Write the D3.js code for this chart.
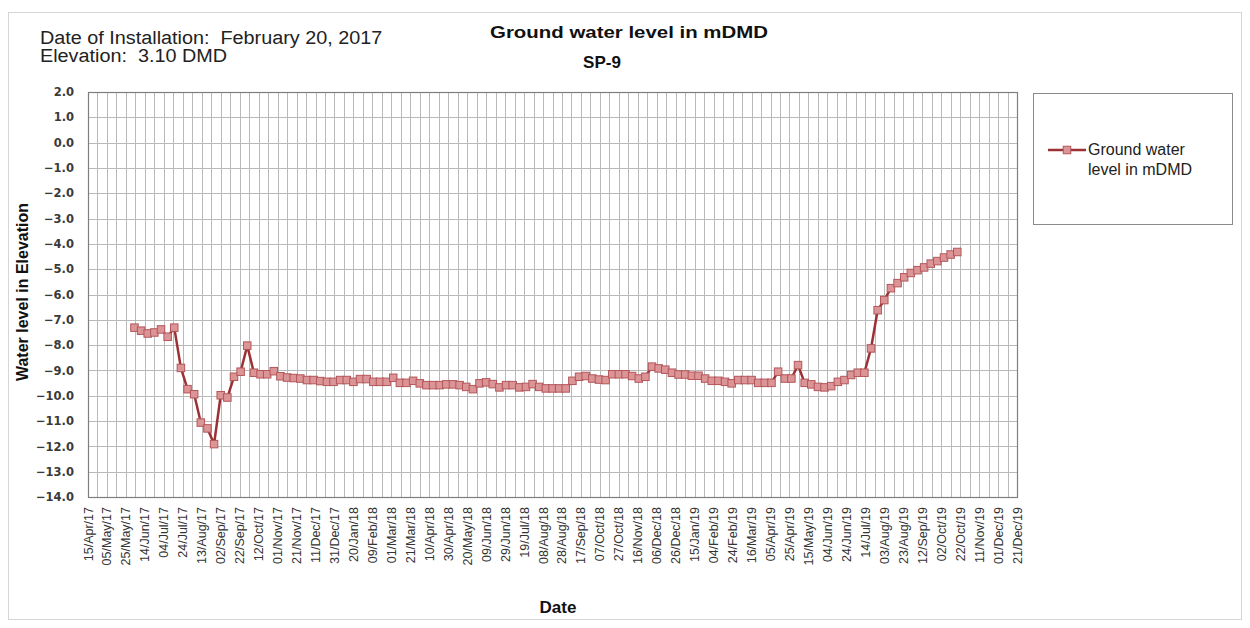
<!DOCTYPE html>
<html>
<head>
<meta charset="utf-8">
<script src="https://cdnjs.cloudflare.com/ajax/libs/d3/7.8.5/d3.min.js"></script>
<style>
body{margin:0;background:#fff;}
text{font-family:'Liberation Sans',Arial,sans-serif;}
</style>
</head>
<body>
<div id="gwl_div"></div>
<script>

////////////////////////////////////////
////////////////////////////////////////
////////////////////////////////////////

var gwl_w = 1250;
var gwl_h = 628;

var plot = {left:88,right:1017,top:92,bottom:497};

var gwl_vis = d3.select('#gwl_div')
	.append('svg')
	.attr('width',gwl_w)
	.attr('height',gwl_h)
	.attr('id','gwl_svg');

////////////////////////////////////////
////////////////////////////////////////
////////////////////////////////////////

var chartTitle = 'Ground water level in mDMD';
var chartSubtitle = 'SP-9';
var infoLines = ['Date of Installation:  February 20, 2017','Elevation:  3.10 DMD'];
var seriesName = ['Ground water','level in mDMD'];
var xTitle = 'Date';
var yTitle = 'Water level in Elevation';

var axisDates = ['2017-04-15','2019-12-21'];
var yTicks = [2,1,0,-1,-2,-3,-4,-5,-6,-7,-8,-9,-10,-11,-12,-13,-14];

var dates2017 = ['2017-06-03','2017-06-10','2017-06-17','2017-06-24','2017-07-01','2017-07-08','2017-07-15','2017-07-22','2017-07-29','2017-08-05','2017-08-12','2017-08-19','2017-08-26','2017-09-02','2017-09-09','2017-09-16','2017-09-23','2017-09-30','2017-10-07','2017-10-14','2017-10-21','2017-10-28','2017-11-04','2017-11-11','2017-11-18','2017-11-25','2017-12-02','2017-12-09','2017-12-16','2017-12-23','2017-12-30'];
var levels2017 = [-7.31,-7.43,-7.54,-7.50,-7.38,-7.67,-7.31,-8.90,-9.74,-9.94,-11.06,-11.29,-11.91,-9.98,-10.07,-9.25,-9.05,-8.02,-9.09,-9.15,-9.15,-9.03,-9.23,-9.28,-9.30,-9.32,-9.38,-9.38,-9.42,-9.45,-9.45];

var dates2018 = ['2018-01-06','2018-01-13','2018-01-20','2018-01-27','2018-02-03','2018-02-10','2018-02-17','2018-02-24','2018-03-03','2018-03-10','2018-03-17','2018-03-24','2018-03-31','2018-04-07','2018-04-14','2018-04-21','2018-04-28','2018-05-05','2018-05-12','2018-05-19','2018-05-26','2018-06-02','2018-06-09','2018-06-16','2018-06-23','2018-06-30','2018-07-07','2018-07-14','2018-07-21','2018-07-28','2018-08-04','2018-08-11','2018-08-18','2018-08-25','2018-09-01','2018-09-08','2018-09-15','2018-09-22','2018-09-29','2018-10-06','2018-10-13','2018-10-20','2018-10-27','2018-11-03','2018-11-10','2018-11-17','2018-11-24','2018-12-01','2018-12-08','2018-12-15','2018-12-22','2018-12-29'];
var levels2018 = [-9.38,-9.38,-9.45,-9.34,-9.34,-9.45,-9.45,-9.45,-9.29,-9.49,-9.49,-9.41,-9.51,-9.58,-9.58,-9.58,-9.55,-9.55,-9.58,-9.65,-9.74,-9.51,-9.47,-9.54,-9.67,-9.58,-9.58,-9.67,-9.65,-9.54,-9.65,-9.71,-9.71,-9.71,-9.71,-9.41,-9.25,-9.22,-9.32,-9.36,-9.38,-9.15,-9.15,-9.15,-9.22,-9.32,-9.25,-8.85,-8.92,-8.97,-9.09,-9.16];

var dates2019 = ['2019-01-05','2019-01-12','2019-01-19','2019-01-26','2019-02-02','2019-02-09','2019-02-16','2019-02-23','2019-03-02','2019-03-09','2019-03-16','2019-03-23','2019-03-30','2019-04-06','2019-04-13','2019-04-20','2019-04-27','2019-05-04','2019-05-11','2019-05-18','2019-05-25','2019-06-01','2019-06-08','2019-06-15','2019-06-22','2019-06-29','2019-07-06','2019-07-13','2019-07-20','2019-07-27','2019-08-03','2019-08-10','2019-08-17','2019-08-24','2019-08-31','2019-09-07','2019-09-14','2019-09-21','2019-09-28','2019-10-05','2019-10-12','2019-10-19'];
var levels2019 = [-9.16,-9.21,-9.21,-9.32,-9.41,-9.41,-9.45,-9.51,-9.38,-9.38,-9.38,-9.49,-9.49,-9.49,-9.05,-9.32,-9.32,-8.79,-9.49,-9.55,-9.65,-9.67,-9.62,-9.45,-9.38,-9.18,-9.09,-9.09,-8.13,-6.62,-6.22,-5.75,-5.55,-5.32,-5.15,-5.04,-4.93,-4.78,-4.68,-4.54,-4.42,-4.32];

////////////////////////////////////////
////////////////////////////////////////
////////////////////////////////////////

var parseDate = d3.utcParse('%Y-%m-%d');
var fmtDate = d3.utcFormat('%d/%b/%y');

var allDates = dates2017.concat(dates2018,dates2019);
var allLevels = levels2017.concat(levels2018,levels2019);

var gwl_data = allDates.map(function(d,i){
	return {'date':parseDate(d),'value':allLevels[i]};
});

var startDate = parseDate(axisDates[0]);
var endDate = parseDate(axisDates[1]);

var x = d3.scaleUtc()
	.domain([startDate,endDate])
	.range([plot.left,plot.right]);

var y = d3.scaleLinear()
	.domain([-14,2])
	.range([plot.bottom,plot.top]);

// every 20th day gets a label, every 10th a gridline
var majorTicks = d3.utcDay.range(startDate,d3.utcDay.offset(endDate,1),20);
var minorTicks = d3.utcDay.range(startDate,d3.utcDay.offset(endDate,1),10);

////////////////////////////////////////
////////////////////////////////////////
////////////////////////////////////////

gwl_vis.append('rect')
	.attr('x',8.5)
	.attr('y',12.5)
	.attr('width',1233)
	.attr('height',607)
	.attr('fill','none')
	.attr('stroke','#d6d6d6');

gwl_vis.selectAll('line.gwl_vgrid')
	.data(minorTicks)
	.enter()
		.append('line')
		.attr('class','gwl_vgrid')
		.attr('x1',function(d){ return Math.round(x(d))+0.5; })
		.attr('x2',function(d){ return Math.round(x(d))+0.5; })
		.attr('y1',plot.top)
		.attr('y2',plot.bottom)
		.attr('stroke','#b9b9b9')
		.attr('stroke-width',1);

gwl_vis.selectAll('line.gwl_hgrid')
	.data(yTicks)
	.enter()
		.append('line')
		.attr('class','gwl_hgrid')
		.attr('x1',plot.left)
		.attr('x2',plot.right)
		.attr('y1',function(d){ return Math.round(y(d))+0.5; })
		.attr('y2',function(d){ return Math.round(y(d))+0.5; })
		.attr('stroke','#b9b9b9')
		.attr('stroke-width',1);

gwl_vis.append('rect')
	.attr('x',plot.left+0.5)
	.attr('y',plot.top+0.5)
	.attr('width',plot.right-plot.left)
	.attr('height',plot.bottom-plot.top)
	.attr('fill','none')
	.attr('stroke','#7f7f7f')
	.attr('stroke-width',1.2);

////////////////////////////////////////
////////////////////////////////////////
////////////////////////////////////////

gwl_vis.selectAll('text.gwl_ytick')
	.data(yTicks)
	.enter()
		.append('text')
		.attr('class','gwl_ytick')
		.attr('x',74)
		.attr('y',function(d){ return y(d); })
		.attr('dy','0.36em')
		.attr('text-anchor','end')
		.style('font-family','"DejaVu Sans",Verdana,sans-serif')
		.attr('font-size',11.5)
		.attr('font-weight','bold')
		.attr('fill','#3a3a3a')
		.text(function(d){ return d3.format('.1f')(d); });

gwl_vis.selectAll('text.gwl_xtick')
	.data(majorTicks)
	.enter()
		.append('text')
		.attr('class','gwl_xtick')
		.attr('transform',function(d){
			return 'translate('+(x(d)+4.5)+',507) rotate(-90)';
		})
		.attr('text-anchor','end')
		.attr('font-size',12.5)
		.attr('fill','#333')
		.text(function(d){ return fmtDate(d); });

////////////////////////////////////////
////////////////////////////////////////
////////////////////////////////////////

var line = d3.line()
	.x(function(d){ return x(d.date); })
	.y(function(d){ return y(d.value); });

gwl_vis.append('path')
	.datum(gwl_data)
	.attr('d',line)
	.attr('fill','none')
	.attr('stroke','#9c3135')
	.attr('stroke-width',2.5)
	.attr('stroke-linejoin','round');

gwl_vis.selectAll('rect.gwl_marker')
	.data(gwl_data)
	.enter()
		.append('rect')
		.attr('class','gwl_marker')
		.attr('x',function(d){ return x(d.date)-3.75; })
		.attr('y',function(d){ return y(d.value)-3.75; })
		.attr('width',7.5)
		.attr('height',7.5)
		.attr('fill','#dc9596')
		.attr('stroke','#b4565a')
		.attr('stroke-width',1);

////////////////////////////////////////
////////////////////////////////////////
////////////////////////////////////////

gwl_vis.append('text')
	.attr('x',490)
	.attr('y',38)
	.attr('font-size',17)
	.attr('font-weight','bold')
	.attr('fill','#111')
	.attr('textLength',278)
	.attr('lengthAdjust','spacingAndGlyphs')
	.text(chartTitle);

gwl_vis.append('text')
	.attr('x',602)
	.attr('y',68)
	.attr('text-anchor','middle')
	.attr('font-size',17)
	.attr('font-weight','bold')
	.attr('fill','#111')
	.text(chartSubtitle);

// keep the double spaces after the colons, stretch a little like the original
gwl_vis.selectAll('text.gwl_info')
	.data(infoLines)
	.enter()
		.append('text')
		.attr('class','gwl_info')
		.attr('x',40)
		.attr('y',function(d,i){ return 44+i*18; })
		.attr('font-size',18)
		.attr('fill','#222')
		.style('white-space','pre')
		.text(function(d){ return d; })
		.each(function(){
			var len = this.getComputedTextLength();
			d3.select(this)
				.attr('textLength',len*1.1)
				.attr('lengthAdjust','spacingAndGlyphs');
		});

gwl_vis.append('text')
	.attr('x',558)
	.attr('y',613)
	.attr('text-anchor','middle')
	.attr('font-size',17)
	.attr('font-weight','bold')
	.attr('fill','#111')
	.text(xTitle);

gwl_vis.append('text')
	.attr('transform','translate(28,292) rotate(-90)')
	.attr('text-anchor','middle')
	.attr('font-size',16)
	.attr('font-weight','bold')
	.attr('fill','#111')
	.text(yTitle);

////////////////////////////////////////
////////////////////////////////////////
////////////////////////////////////////

var legend = gwl_vis.append('g')
	.attr('class','gwl_legend');

legend.append('rect')
	.attr('x',1033.5)
	.attr('y',93.5)
	.attr('width',199)
	.attr('height',131)
	.attr('fill','#fff')
	.attr('stroke','#8a8a8a');

legend.append('line')
	.attr('x1',1048)
	.attr('x2',1086)
	.attr('y1',150)
	.attr('y2',150)
	.attr('stroke','#9c3135')
	.attr('stroke-width',2.5);

legend.append('rect')
	.attr('x',1063.25)
	.attr('y',146.25)
	.attr('width',7.5)
	.attr('height',7.5)
	.attr('fill','#dc9596')
	.attr('stroke','#b4565a');

legend.selectAll('text.gwl_legtext')
	.data(seriesName)
	.enter()
		.append('text')
		.attr('class','gwl_legtext')
		.attr('x',1088)
		.attr('y',function(d,i){ return 155+i*20; })
		.attr('font-size',16)
		.attr('fill','#222')
		.text(function(d){ return d; });

</script>
</body>
</html>
